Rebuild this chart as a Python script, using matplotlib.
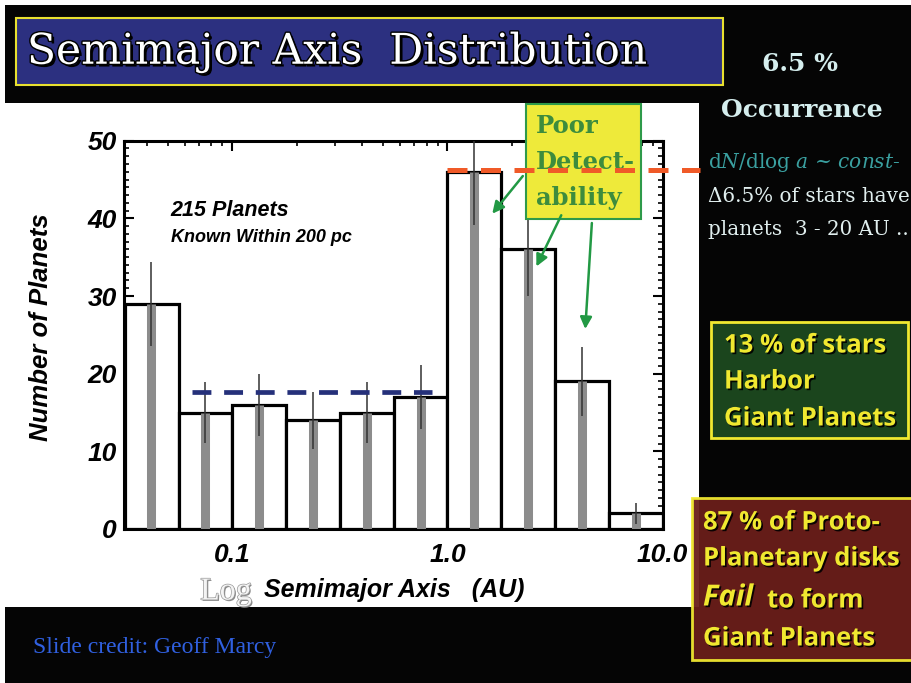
import numpy as np
import matplotlib
matplotlib.use("Agg")
import matplotlib.pyplot as plt
import matplotlib.patheffects as pe
from matplotlib.patches import Rectangle
from matplotlib.ticker import FixedLocator, NullFormatter, MultipleLocator

# histogram data
bin_edges = [0.0316, 0.0562, 0.1, 0.178, 0.316, 0.562, 1.0, 1.78, 3.16, 5.62, 10.0]
bin_centers = [0.042, 0.075, 0.133, 0.237, 0.422, 0.75, 1.33, 2.37, 4.22, 7.5]
counts = [29, 15, 16, 14, 15, 17, 46, 36, 19, 2]
errs = [5.4, 3.9, 4.0, 3.7, 3.9, 4.1, 6.8, 6.0, 4.4, 1.4]
flat_level = 17.6
flat_range = [0.065, 0.85]
outer_level = 46.2
outer_range = [1.0, 14.9]
xticks = [0.1, 1.0, 10.0]
xticklabels = ["0.1", "1.0", "10.0"]
yticks = [0, 10, 20, 30, 40, 50]

plt.rcParams["mathtext.fontset"] = "dejavuserif"

W, H = 911, 683
fig = plt.figure(figsize=(W / 100, H / 100), dpi=100, facecolor="white")


def box(x0, y0, x1, y1):
    return (x0 / W, 1 - y1 / H), (x1 - x0) / W, (y1 - y0) / H


def fxy(x, y):
    return x / W, 1 - y / H


narrow = ["Liberation Sans Narrow", "Liberation Sans", "DejaVu Sans"]
serif = ["DejaVu Serif"]

# slide background
fig.patches.append(Rectangle(*box(5, 5, 911, 683), transform=fig.transFigure,
                             facecolor="#050505", edgecolor="none", zorder=-10))
fig.patches.append(Rectangle(*box(0, 103, 699, 607), transform=fig.transFigure,
                             facecolor="white", edgecolor="none", zorder=-9))

# title
fig.patches.append(Rectangle(*box(16, 18, 723, 85), transform=fig.transFigure,
                             facecolor="#2c3080", edgecolor="#e8e030", lw=1.5, zorder=-8))
fig.text(*fxy(27, 52), "Semimajor Axis  Distribution", fontsize=30.5, family=serif,
         color="white", va="center", ha="left",
         path_effects=[pe.withSimplePatchShadow(offset=(2, -2), shadow_rgbFace="black", alpha=1),
                       pe.withStroke(linewidth=2, foreground="black")])

# right hand notes
fig.text(*fxy(800, 64), "6.5 %", fontsize=18, family=serif, weight="bold",
         color="#d5eeee", ha="center", va="center")
fig.text(*fxy(802, 110), "Occurrence", fontsize=18, family=serif, weight="bold",
         color="#d5eeee", ha="center", va="center")
fig.text(*fxy(708, 163), r"d$N$/dlog $a$ ~ $const$-", fontsize=14.5, family=serif,
         color="#3aa0a0", ha="left", va="center")
fig.text(*fxy(708, 196), "\u03946.5% of stars have", fontsize=14.3, family=serif,
         color="#e0eeee", ha="left", va="center")
fig.text(*fxy(708, 230), "planets  3 - 20 AU ..", fontsize=14.3, family=serif,
         color="#e0eeee", ha="left", va="center")

yel = "#f0e830"
shadow = [pe.withSimplePatchShadow(offset=(1.2, -1.2), shadow_rgbFace="black", alpha=0.9)]
fig.patches.append(Rectangle(*box(711, 322, 908, 438), transform=fig.transFigure,
                             facecolor="#1b451d", edgecolor=yel, lw=2, zorder=-8))
for txt, yy in [("13 % of stars", 345), ("Harbor", 381), ("Giant Planets", 418)]:
    fig.text(*fxy(724, yy), txt, fontsize=18.5, family="Open Sans", weight="bold",
             color=yel, ha="left", va="center", path_effects=shadow)

fig.patches.append(Rectangle(*box(692, 498, 915, 660), transform=fig.transFigure,
                             facecolor="#6a1e1a", edgecolor=yel, lw=2, alpha=0.95, zorder=5))
for txt, yy in [("87 % of Proto-", 522), ("Planetary disks", 558), ("Giant Planets", 638)]:
    fig.text(*fxy(703, yy), txt, fontsize=18.5, family="Open Sans", weight="bold",
             color=yel, ha="left", va="center", path_effects=shadow, zorder=6)
fig.text(*fxy(703, 598), "Fail", fontsize=21, family="Open Sans", style="italic",
         weight="bold", color=yel, ha="left", va="center", path_effects=shadow, zorder=6)
fig.text(*fxy(767, 600), "to form", fontsize=18.5, family="Open Sans", weight="bold",
         color=yel, ha="left", va="center", path_effects=shadow, zorder=6)

fig.text(*fxy(33, 647), "Slide credit: Geoff Marcy", fontsize=17, family="Liberation Serif",
         color="#3060e0", ha="left", va="center")

# main histogram axes
ax = fig.add_axes([123.7 / W, 1 - 529 / H, 538.9 / W, 388.3 / H])
ax.set_xscale("log")
ax.set_xlim(10 ** -1.505, 10.0)
ax.set_ylim(0, 50)

widths = np.diff(bin_edges)
ax.bar(bin_edges[:-1], counts, width=widths, align="edge", facecolor="white",
       edgecolor="black", lw=2.3, zorder=2)
ax.vlines(bin_centers, 0, counts, color="#8c8c8c", lw=6.5, zorder=3)
ax.errorbar(bin_centers, counts, yerr=errs, fmt="none", ecolor="#333333",
            elinewidth=1.1, capsize=0, zorder=4)

ax.plot(flat_range, [flat_level, flat_level], color="#25307a", lw=3.4,
        ls=(0, (4.0, 2.7)), zorder=5)

for s in ax.spines.values():
    s.set_linewidth(2.2)

ax.xaxis.set_major_locator(FixedLocator(xticks))
ax.set_xticklabels(xticklabels)
ax.xaxis.set_minor_formatter(NullFormatter())
ax.yaxis.set_major_locator(FixedLocator(yticks))
ax.yaxis.set_minor_locator(MultipleLocator(1))
ax.tick_params(which="both", direction="in", top=True, right=True, color="black")
ax.tick_params(which="major", length=7, width=1.5)
ax.tick_params(which="minor", length=3.5, width=1.2)
ax.tick_params(axis="x", which="major", pad=10)
ax.tick_params(axis="y", which="major", pad=5)
for lab in ax.get_xticklabels() + ax.get_yticklabels():
    lab.set_family(narrow)
    lab.set_fontsize(19)
    lab.set_weight("bold")
    lab.set_style("italic")

ax.set_ylabel("Number of Planets", family=narrow, fontsize=18.5, weight="bold",
              style="italic")
ax.yaxis.set_label_coords(-0.132, 0.52)
fig.text(*fxy(394, 590), "Semimajor Axis   (AU)", family=narrow, fontsize=18,
         weight="bold", style="italic", ha="center", va="center")
fig.text(*fxy(226, 592), "Log", family="Liberation Serif", fontsize=23, color="#f4f4f4",
         ha="center", va="center",
         path_effects=[pe.withSimplePatchShadow(offset=(1, -1), shadow_rgbFace="#888888", alpha=1),
                       pe.withStroke(linewidth=1, foreground="#999999")])

ax.text(0.087, 0.82, "215 Planets", transform=ax.transAxes, family=narrow, fontsize=15.5,
        weight="bold", style="italic", va="center")
ax.text(0.087, 0.75, "Known Within 200 pc", transform=ax.transAxes, family=narrow,
        fontsize=13, weight="bold", style="italic", va="center")

# "Poor Detectability" call-out
ax.add_patch(Rectangle(*box(526, 104, 641, 219), transform=fig.transFigure,
                       facecolor="#eeea3a", edgecolor="#2e9a4a", lw=1.5,
                       clip_on=False, zorder=6))
for txt, yy in [("Poor", 126), ("Detect-", 162), ("ability", 198)]:
    ax.text(*fxy(536, yy), txt, transform=fig.transFigure, family=serif, fontsize=17.5,
            weight="bold", color="#3d8c3d", ha="left", va="center", zorder=7)

ax.plot(outer_range, [outer_level, outer_level], color="#f05a28", lw=3.6,
        ls=(0, (4.0, 2.7)), clip_on=False, zorder=8)

arrows = [((1.615, 40.6), (2.24, 45.45)),
          ((2.59, 33.8), (3.38, 40.4)),
          ((4.37, 25.75), (4.69, 39.4))]
for head, tail in arrows:
    ax.annotate("", xy=head, xytext=tail,
                arrowprops=dict(arrowstyle="-|>,head_length=0.7,head_width=0.35",
                                color="#229944", lw=1.8, shrinkA=0, shrinkB=0),
                zorder=9, annotation_clip=False)

fig.savefig("out.png", dpi=100)
